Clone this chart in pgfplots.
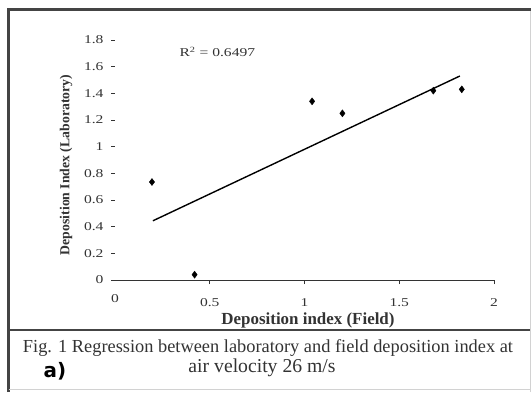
\documentclass[border=0pt]{standalone}
\usepackage{pgfplots}
\pgfplotsset{compat=1.18}
\usepackage{fontspec}
\setmainfont{Liberation Serif}
\newfontfamily\sansb{DejaVu Sans}
\definecolor{txt}{HTML}{333333}
\definecolor{framec}{HTML}{444444}
\newcommand{\s}[1]{\scalebox{1.3}[1]{#1}}
\begin{document}
\begin{tikzpicture}[x=1bp,y=1bp]
\useasboundingbox (0,0) rectangle (531,392);
\fill[white] (0,0) rectangle (531,392);
\draw[framec, line width=3bp] (8.5,0) -- (8.5,382.5) -- (531,382.5);
\draw[gray!35, line width=1bp] (530,0) -- (530,381);
\draw[gray!35, line width=1bp] (8.5,2.5) -- (530,2.5);
\draw[framec, line width=1.2bp] (8.5,62) -- (530,62);
\begin{axis}[
  at={(115bp,112bp)}, anchor=south west,
  scale only axis, width=379bp, height=240bp,
  xmin=0, xmax=2, ymin=0, ymax=1.8,
  axis x line=bottom, axis y line=left,
  axis line style={-},
  y axis line style={draw=none},
  x axis line style={txt, line width=1bp, shorten <=-3bp},
  xtick={0.5,1,1.5,2}, xticklabels={\s{0.5},\s{1},\s{1.5},\s{2}},
  extra x ticks={0}, extra x tick labels={\s{0}}, extra x tick style={major tick length=0pt},
  ytick={0,0.2,0.4,0.6,0.8,1,1.2,1.4,1.6,1.8},
  yticklabels={\s{0},\s{0.2},\s{0.4},\s{0.6},\s{0.8},\s{1},\s{1.2},\s{1.4},\s{1.6},\s{1.8}},
  tick align=outside, major tick length=4bp,
  tick style={txt, line width=0.8bp},
  ticklabel style={font=\fontsize{12}{14}\selectfont, text=txt},
  yticklabel style={xshift=-4bp},
  xticklabel style={yshift=-11bp},
  clip=false,
]
\addplot[only marks, mark=diamond*, mark size=3.5bp, black] coordinates {
(0.195,0.735) (0.42,0.04) (1.04,1.34) (1.20,1.25) (1.68,1.42) (1.83,1.43)};
\addplot[black, line width=1.4bp] coordinates {(0.2,0.444) (1.82,1.53)};
\node[text=txt, font=\fontsize{12}{14}\selectfont] at (axis cs:0.54,1.71) {\s{R\textsuperscript{2} = 0.6497}};
\end{axis}
\node[rotate=90, text=txt] at (66,227) {\resizebox{180bp}{!}{\bfseries\fontsize{11}{13}\selectfont Deposition Index (Laboratory)}};
\node[text=txt] at (308,72) {\resizebox{173bp}{!}{\bfseries\fontsize{11}{13}\selectfont Deposition index (Field)}};
\node[text=txt] at (268,44) {\resizebox{490bp}{!}{\fontsize{14}{16}\selectfont Fig. 1 Regression between laboratory and field deposition index at}};
\node[text=txt] at (262,24) {\resizebox{147bp}{!}{\fontsize{14}{16}\selectfont air velocity 26 m/s}};
\node[text=black] at (55,21) {\sansb\bfseries\fontsize{20}{22}\selectfont a)};
\end{tikzpicture}
\end{document}
